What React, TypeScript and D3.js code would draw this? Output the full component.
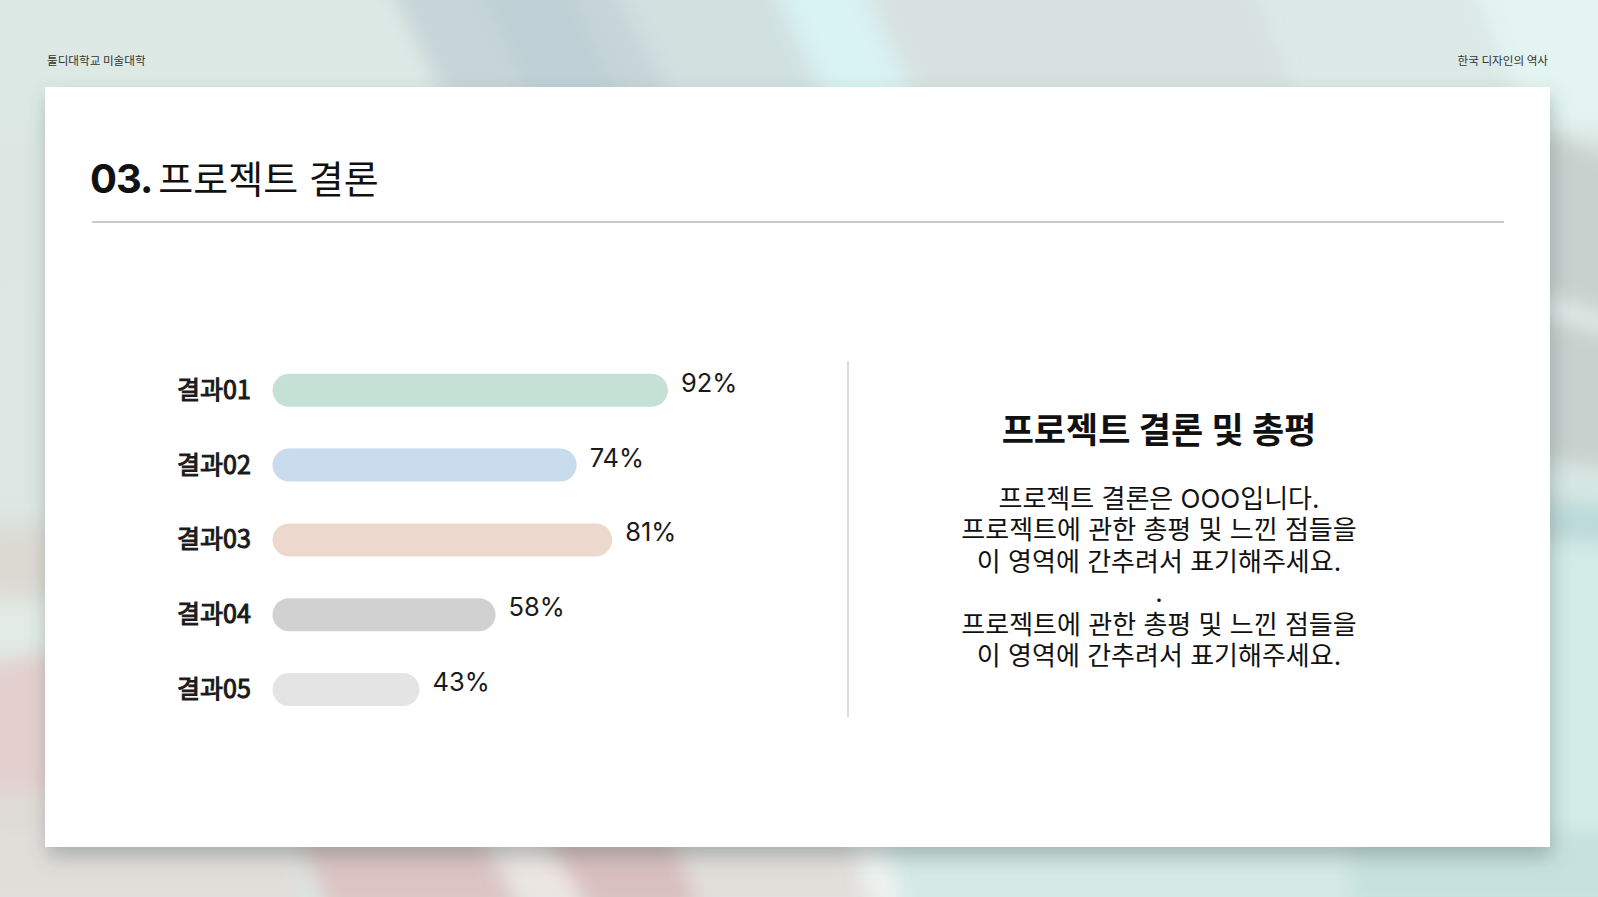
import React from "react";
import * as d3 from "d3";

const categories = ["결과01", "결과02", "결과03", "결과04", "결과05"];
const values = [92, 74, 81, 58, 43];
const barColors = ["#c5e1d6", "#c9dced", "#edd8ce", "#d1d1d1", "#e4e4e4"];
const bodyLines = [
  "프로젝트 결론은 OOO입니다.",
  "프로젝트에 관한 총평 및 느낀 점들을",
  "이 영역에 간추려서 표기해주세요.",
  ".",
  "프로젝트에 관한 총평 및 느낀 점들을",
  "이 영역에 간추려서 표기해주세요.",
];

const W = 1598;
const H = 897;
const FONT = "Inter, 'Noto Sans CJK KR', sans-serif";
const KFONT = "'Noto Sans CJK KR', Inter, sans-serif";

export default function App() {
  const barX = 272.5;
  const x = d3.scaleLinear().domain([14, 100]).range([barX, barX + 436]);
  const y = d3.scalePoint<string>().domain(categories).range([390.3, 689.5]);
  const barH = 33;
  const lineY = d3.scaleLinear().domain([0, 1]).range([508, 539.4]);

  return (
    <div style={{ position: "absolute", left: 0, top: 0, width: W, height: H, overflow: "hidden" }}>
      <svg width={W} height={H} style={{ display: "block" }}>
        <defs>
          <filter id="blur" x="-10%" y="-10%" width="120%" height="120%">
            <feGaussianBlur stdDeviation="10" />
          </filter>
          <filter id="shadow" x="-5%" y="-5%" width="110%" height="115%">
            <feDropShadow dx="2" dy="10" stdDeviation="10" floodColor="#4a5a58" floodOpacity="0.35" />
          </filter>
          <linearGradient id="bg" x1="0" y1="0" x2="1" y2="1">
            <stop offset="0" stopColor="#dce7e3" />
            <stop offset="0.5" stopColor="#dde6e2" />
            <stop offset="1" stopColor="#d3e9e5" />
          </linearGradient>
        </defs>
        <rect x={0} y={0} width={W} height={H} fill="url(#bg)" />
        <g filter="url(#blur)">
          {/* top strip */}
          <polygon points="-20,-20 400,-20 470,130 -20,130" fill="#dde9e5" />
          <polygon points="385,-20 640,-20 720,130 460,130" fill="#c8d5d8" />
          <polygon points="470,-20 570,-20 640,130 540,130" fill="#bfd1d6" />
          <polygon points="610,-20 780,-20 850,130 690,130" fill="#d0e1e0" />
          <polygon points="770,-20 860,-20 930,130 840,130" fill="#d9f2f2" />
          <polygon points="860,-20 1250,-20 1310,130 930,130" fill="#d7e2e0" />
          <polygon points="1250,-20 1470,-20 1530,130 1310,130" fill="#dce9e6" />
          <polygon points="1470,-20 1620,-20 1620,130 1530,130" fill="#e3f4f1" />
          {/* right strip */}
          <polygon points="1540,130 1620,160 1620,470 1540,460" fill="#c8d1ce" />
          <polygon points="1540,295 1620,320 1620,335 1540,315" fill="#e6eeec" />
          <polygon points="1540,500 1620,505 1620,545 1540,540" fill="#bcdad8" />
          <polygon points="1540,545 1620,545 1620,910 1540,910" fill="#d3ece8" />
          {/* left strip */}
          <polygon points="-20,525 60,525 60,600 -20,600" fill="#dcdad3" />
          <polygon points="-20,600 60,600 60,655 -20,655" fill="#e2ebe5" />
          <polygon points="-20,665 60,650 60,790 -20,790" fill="#e3d0cf" />
          <polygon points="-20,790 60,790 60,910 -20,910" fill="#dfdcd7" />
          {/* bottom strip */}
          <polygon points="-20,830 300,830 300,910 -20,910" fill="#e1deda" />
          <polygon points="295,830 480,830 520,910 330,910" fill="#dcc4c3" />
          <polygon points="480,830 540,830 590,910 525,910" fill="#ece6e3" />
          <polygon points="540,830 670,830 700,910 590,910" fill="#d9c0bf" />
          <polygon points="670,830 850,830 870,910 700,910" fill="#e2dfdb" />
          <polygon points="850,830 880,830 905,910 872,910" fill="#eef3f1" />
          <polygon points="880,830 1350,830 1350,910 905,910" fill="#d4eae6" />
          <polygon points="1350,830 1620,830 1620,910 1350,910" fill="#c7e2de" />
        </g>

        {/* header texts */}
        <text x={47} y={65} fontFamily={KFONT} fontSize={11.6} fill="#333">툴디대학교 미술대학</text>
        <text x={1548} y={65} fontFamily={KFONT} fontSize={11.6} fill="#333" textAnchor="end">한국 디자인의 역사</text>

        {/* card */}
        <rect x={45} y={87} width={1505} height={760} fill="#fff" filter="url(#shadow)" />

        {/* title */}
        <text x={90} y={193} fontFamily={FONT} fill="#111">
          <tspan fontSize={40} fontWeight={700} letterSpacing={-1}>03.</tspan>
          <tspan fontSize={38} fontWeight={400} dx={6}>프로젝트 결론</tspan>
        </text>
        <line x1={92} x2={1504} y1={222} y2={222} stroke="#b8b8b8" strokeWidth={1.5} />

        {/* bars */}
        {categories.map((c, i) => {
          const cy = y(c) as number;
          const xe = x(values[i]);
          return (
            <g key={c}>
              <text x={177} y={cy + 8.5} fontFamily={KFONT} fontSize={25} fontWeight={400} fill="#1a1a1a" stroke="#1a1a1a" strokeWidth={1}>{c}</text>
              <rect x={barX} y={cy - barH / 2} width={xe - barX} height={barH} rx={barH / 2} ry={barH / 2} fill={barColors[i]} />
              <text x={xe + 13} y={cy + 1.5} fontFamily={FONT} fontSize={25.5} fill="#1a1a1a">{values[i]}%</text>
            </g>
          );
        })}

        {/* divider */}
        <line x1={848} x2={848} y1={361} y2={717} stroke="#cfcfcf" strokeWidth={1.5} />

        {/* right panel */}
        <text x={1159} y={443} textAnchor="middle" fontFamily={FONT} fontSize={35} fontWeight={700} fill="#111">프로젝트 결론 및 총평</text>
        {bodyLines.map((t, i) => (
          <text key={i} x={1159} y={lineY(i)} textAnchor="middle" fontFamily={FONT} fontSize={26} fill="#111">{t}</text>
        ))}
      </svg>
    </div>
  );
}
